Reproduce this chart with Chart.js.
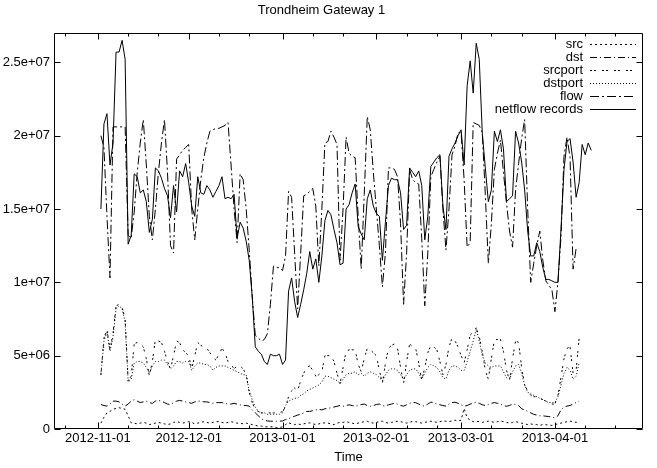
<!DOCTYPE html>
<html>
<head>
<meta charset="utf-8">
<script src="https://cdn.jsdelivr.net/npm/chart.js@4.4.1/dist/chart.umd.min.js"></script>
<style>
  html, body { margin: 0; padding: 0; background: #fff; }
</style>
</head>
<body>
<canvas id="grafica" width="657" height="468"></canvas>
<script>
// valores en millones, un punto por dia desde 2012-11-02 (dia 1 respecto a 2012-11-01)
const primerDia = 1;

const netflow = [
  15.0, 20.8, 21.5, 18.0, 19.5, 25.7, 25.7, 26.5, 25.2, 12.6,
  13.2, 17.4, 17.2, 16.1, 16.3, 15.5, 13.4, 14.3, 17.8, 17.6,
  17.1, 16.4, 15.9, 14.4, 16.6, 14.8, 17.6, 17.2, 18.1, 16.8,
  15.2, 14.5, 17.2, 16.1, 16.0, 16.6, 16.3, 15.8, 16.2, 16.6,
  17.2, 15.7, 15.8, 15.7, 16.0, 13.0, 14.1, 13.7, 12.8, 11.5,
  9.0, 5.6, 5.3, 5.1, 4.6, 4.4, 5.1, 5.0, 5.0, 5.1,
  4.4, 4.7, 9.4, 10.3, 8.7, 7.6, 8.5, 9.5, 10.6, 12.1,
  10.9, 11.6, 10.0, 11.8, 14.2, 14.9, 14.6, 13.6, 12.7, 11.2,
  11.3, 15.0, 15.3, 16.1, 16.7, 13.8, 13.3, 12.9, 15.7, 16.3,
  15.2, 14.7, 14.5, 11.5, 14.1, 16.6, 17.1, 17.0, 17.0, 16.1,
  13.6, 13.9, 17.8, 17.5, 17.2, 17.6, 16.6, 12.9, 14.5, 17.9,
  18.2, 18.5, 18.7, 15.2, 13.6, 18.6, 19.1, 19.5, 20.0, 20.4,
  18.0, 23.4, 25.1, 22.9, 26.3, 25.2, 20.2, 17.8, 15.5, 16.3,
  20.3, 19.6, 20.4, 19.1, 15.5, 15.7, 15.9, 20.3, 19.5, 18.2,
  16.3, 13.5, 11.8, 11.8, 12.7, 12.1, 11.0, 10.2, 10.2, 10.1,
  10.0, 10.0, 13.6, 17.7, 19.6, 19.8, 18.2, 15.8, 16.8, 19.4,
  18.7, 19.5, 19.0
];

const flow = [
  20.0, 19.2, 14.5, 10.3, 20.6, 20.6, 20.6, 20.6, 20.6, 13.2,
  13.0, 14.8, 17.5, 19.5, 21.1, 18.0, 14.5, 12.9, 15.0, 17.5,
  19.5, 21.1, 17.5, 12.5, 12.0, 18.4, 18.7, 19.0, 19.2, 19.4,
  15.0, 12.9, 15.0, 17.0, 18.5, 19.5, 20.3, 20.4, 20.5, 20.5,
  20.6, 20.7, 20.9, 18.0, 15.0, 12.7, 17.4, 17.0, 15.0, 12.2,
  9.0, 6.4, 6.2, 6.0, 6.1, 6.5, 8.5, 11.1, 11.0, 11.0,
  10.8, 11.8, 16.2, 15.8, 12.0, 8.2, 12.0, 15.9, 16.0, 16.2,
  16.4, 15.2, 11.1, 15.0, 19.5, 19.6, 20.3, 19.9, 19.4, 11.5,
  15.0, 19.9, 18.8, 18.6, 18.5, 14.5, 10.9, 16.0, 21.3, 20.4,
  17.5, 15.0, 12.5, 9.7, 12.0, 17.8, 17.8, 17.7, 17.2, 14.0,
  8.5, 12.0, 17.7, 17.0, 16.8, 16.7, 13.0, 8.4, 12.0, 17.2,
  17.7, 18.2, 18.6, 15.0, 12.2, 15.0, 18.7, 19.3, 20.2, 20.2,
  17.0, 12.4, 12.7, 20.9, 20.8, 20.7, 20.2, 16.0, 11.3, 14.0,
  17.7, 18.8, 19.7, 17.5, 15.4, 13.5, 12.4, 16.3, 18.1, 19.8,
  21.1, 15.0, 10.0, 11.3, 12.5, 13.5, 11.5, 10.1, 9.8, 9.5,
  8.0, 10.0, 13.1, 18.6, 19.9, 18.5, 10.9, 12.3
];

const srcport = [
  3.7, 6.2, 6.8, 5.4, 6.5, 8.4, 8.5, 8.3, 7.5, 3.3,
  3.6, 5.8, 5.9, 5.8, 5.6, 4.8, 3.6, 4.6, 6.1, 6.0,
  5.9, 5.3, 4.6, 4.1, 5.0, 6.0, 5.9, 5.4, 5.2, 5.0,
  4.1, 5.0, 5.9, 5.7, 5.6, 5.5, 5.2, 4.9, 4.7, 5.1,
  5.5, 5.2, 4.6, 4.4, 4.1, 4.3, 4.3, 4.1, 3.7, 2.5,
  1.8, 1.3, 1.2, 1.1, 1.1, 1.1, 1.1, 1.1, 1.1, 1.1,
  1.2, 1.5, 2.2, 2.6, 2.8, 2.6, 3.3, 3.8, 4.2, 4.3,
  4.0, 3.6, 3.7, 3.9, 5.0, 5.0, 5.0, 4.6, 3.8, 3.1,
  4.2, 5.3, 5.4, 5.4, 5.4, 4.4, 3.9, 4.8, 5.5, 5.4,
  5.2, 5.0, 4.0, 3.1, 4.5, 5.5, 5.7, 5.8, 5.5, 4.2,
  3.1, 4.6, 5.8, 5.6, 5.5, 4.5, 3.3, 4.2, 5.2, 5.7,
  5.6, 5.4, 4.6, 3.7, 4.4, 5.6, 6.2, 6.0, 5.6, 5.0,
  4.5, 5.4, 6.4, 6.6, 6.9, 6.3, 5.3, 4.0, 3.4, 4.8,
  6.1, 6.1, 6.1, 5.3, 4.0, 3.3, 4.8, 6.0, 5.9, 4.2,
  3.0, 2.6, 2.3, 2.2, 2.2, 2.1, 2.0, 1.9, 1.8, 1.7,
  1.7, 2.3, 3.5, 4.8, 5.5, 5.6, 3.8, 4.0, 6.2
];

const dstport = [
  3.7, 6.0, 6.6, 5.3, 6.3, 8.2, 8.4, 8.2, 7.3, 3.2,
  3.4, 4.5, 4.6, 4.6, 4.5, 4.2, 3.8, 4.3, 4.6, 4.6,
  4.7, 4.7, 4.4, 4.1, 4.3, 4.6, 4.6, 4.5, 4.6, 4.6,
  4.0, 4.3, 4.5, 4.5, 4.4, 4.4, 4.3, 4.0, 4.2, 4.3,
  4.3, 4.3, 4.2, 4.1, 4.0, 3.9, 3.8, 3.7, 3.7, 2.6,
  2.0, 1.5, 1.2, 1.1, 1.1, 1.0, 1.0, 1.0, 1.0, 1.0,
  1.1, 1.6, 1.9, 2.0, 2.1, 2.1, 2.3, 2.4, 2.6, 2.7,
  2.8, 2.9, 3.0, 3.2, 3.6, 3.6, 3.5, 3.4, 3.3, 3.1,
  3.4, 3.7, 3.8, 3.8, 3.9, 3.7, 3.8, 3.6, 3.8, 3.9,
  3.8, 3.7, 3.5, 3.3, 3.7, 4.0, 4.1, 4.1, 4.0, 3.7,
  3.4, 3.7, 4.0, 4.1, 4.1, 3.8, 3.4, 3.8, 4.2, 4.4,
  4.3, 4.2, 3.9, 3.5, 3.4, 4.0, 4.3, 4.3, 4.2, 4.0,
  4.0, 4.6, 5.3, 6.0, 6.8, 6.0, 5.0, 4.5, 4.3, 4.2,
  4.3, 4.3, 4.3, 3.9, 3.5, 3.4, 3.9, 4.3, 4.4, 3.8,
  3.0, 2.5, 2.4, 2.3, 2.2, 2.1, 2.0, 1.9, 1.8, 1.8,
  1.8, 2.2, 3.0, 3.8, 4.2, 4.0, 3.4, 3.6, 4.5
];

const dst = [
  1.67, 1.6, 1.56, 1.7, 1.9, 1.9, 1.85, 1.7, 1.56, 1.7,
  1.9, 2.0, 1.9, 1.8, 1.85, 1.9, 1.8, 1.75, 1.9, 1.95,
  1.9, 1.8, 1.7, 1.67, 1.8, 1.9, 1.95, 1.9, 1.85, 1.8,
  1.75, 1.85, 1.9, 1.9, 1.85, 1.85, 1.8, 1.75, 1.8, 1.8,
  1.8, 1.75, 1.7, 1.7, 1.75, 1.7, 1.65, 1.6, 1.6, 1.56,
  1.3, 1.1, 0.9, 0.7, 0.6, 0.55, 0.53, 0.53, 0.53, 0.53,
  0.55, 0.64, 0.7, 0.8, 0.87, 0.95, 1.0, 1.1, 1.2, 1.2,
  1.25, 1.3, 1.35, 1.3, 1.38, 1.4, 1.45, 1.5, 1.55, 1.6,
  1.55, 1.6, 1.65, 1.6, 1.55, 1.6, 1.67, 1.7, 1.6, 1.55,
  1.6, 1.67, 1.7, 1.6, 1.56, 1.65, 1.7, 1.75, 1.7, 1.6,
  1.56, 1.65, 1.75, 1.8, 1.8, 1.7, 1.6, 1.56, 1.7, 1.83,
  1.8, 1.7, 1.65, 1.6, 1.56, 1.7, 1.8, 1.83, 1.75, 1.65,
  1.56, 1.6, 1.7, 1.75, 1.83, 1.75, 1.65, 1.6, 1.67, 1.75,
  1.8, 1.75, 1.7, 1.6, 1.55, 1.6, 1.7, 1.67, 1.6, 1.38,
  1.3, 1.2, 1.1, 1.0, 0.95, 0.9, 0.9, 0.87, 0.85, 0.8,
  0.76, 0.9, 1.3, 1.5, 1.56, 1.6, 1.7, 1.8, 1.9
];

const src = [
  0.4, 0.8, 1.1, 1.2, 1.35, 1.4, 1.45, 1.4, 1.35, 0.9,
  0.42, 0.4, 0.35, 0.4, 0.45, 0.4, 0.3, 0.35, 0.4, 0.45,
  0.4, 0.35, 0.3, 0.35, 0.45, 0.5, 0.45, 0.4, 0.45, 0.5,
  0.45, 0.35, 0.4, 0.45, 0.5, 0.45, 0.4, 0.45, 0.5, 0.5,
  0.45, 0.4, 0.45, 0.5, 0.45, 0.4, 0.4, 0.35, 0.4, 0.35,
  0.3, 0.25, 0.2, 0.2, 0.15, 0.15, 0.15, 0.15, 0.1, 0.1,
  0.15, 0.3, 0.42, 0.35, 0.3, 0.35, 0.3, 0.35, 0.4, 0.42,
  0.35, 0.3, 0.35, 0.4, 0.42, 0.4, 0.35, 0.3, 0.4, 0.45,
  0.45, 0.5, 0.45, 0.4, 0.35, 0.4, 0.45, 0.5, 0.53, 0.45,
  0.4, 0.45, 0.5, 0.53, 0.45, 0.4, 0.45, 0.5, 0.53, 0.5,
  0.45, 0.4, 0.45, 0.53, 0.5, 0.45, 0.4, 0.45, 0.5, 0.53,
  0.5, 0.45, 0.5, 0.55, 0.53, 0.5, 0.55, 0.6, 0.55, 0.6,
  1.4, 0.76, 0.6, 0.5, 0.53, 0.5, 0.45, 0.5, 0.53, 0.5,
  0.45, 0.5, 0.53, 0.5, 0.45, 0.4, 0.45, 0.5, 0.45, 0.4,
  0.35, 0.3, 0.35, 0.3, 0.3, 0.25, 0.3, 0.3, 0.25, 0.25,
  0.3, 0.35, 0.4, 0.45, 0.5, 0.53, 0.5, 0.45, 0.5
];

// marcas del eje x (dias desde 2012-11-01)
const marcasMes = [0, 30, 61, 92, 120, 151];
const etiquetasMes = ['2012-11-01', '2012-12-01', '2013-01-01', '2013-02-01', '2013-03-01', '2013-04-01'];
const marcasMenores = [-11, 10, 20, 40, 50, 71, 81, 102, 112, 130, 140, 161, 171];

// marcas del eje y (millones)
const marcasY = [0, 5, 10, 15, 20, 25];
const etiquetasY = ['0', '5e+06', '1e+07', '1.5e+07', '2e+07', '2.5e+07'];

const dias = [];
for (let i = 0; i < netflow.length; i++) dias.push(primerDia + i);

const fuente = { family: '"Liberation Sans", Arial, sans-serif', size: 13 };

const linea = (label, data, dash) => ({
  label: label,
  data: data,
  borderColor: '#000',
  borderWidth: 1,
  borderDash: dash,
  pointRadius: 0,
  tension: 0,
  fill: false
});

// marcas hacia dentro y borde como en gnuplot
const bordeGnuplot = {
  id: 'bordeGnuplot',
  afterDatasetsDraw(chart) {
    const ctx = chart.ctx;
    const a = chart.chartArea;
    const x = chart.scales.x;
    const y = chart.scales.y;
    const l = Math.round(a.left) + 0.5, r = Math.round(a.right) - 0.5;
    const t = Math.round(a.top) + 0.5, b = Math.round(a.bottom) - 0.5;
    ctx.save();
    ctx.strokeStyle = '#000';
    ctx.lineWidth = 1;
    ctx.setLineDash([]);
    ctx.beginPath();
    x.ticks.forEach(tk => {
      const px = Math.round(x.getPixelForValue(tk.value)) + 0.5;
      if (px <= l + 1) return;
      const len = marcasMes.includes(tk.value) ? 6 : 3;
      ctx.moveTo(px, b); ctx.lineTo(px, b - len);
      ctx.moveTo(px, t); ctx.lineTo(px, t + len);
    });
    y.ticks.forEach(tk => {
      const py = Math.round(y.getPixelForValue(tk.value)) + 0.5;
      ctx.moveTo(l, py); ctx.lineTo(l + 6, py);
      ctx.moveTo(r, py); ctx.lineTo(r - 6, py);
    });
    ctx.rect(l, t, r - l, b - t);
    ctx.stroke();
    ctx.restore();
  }
};

const leyendaGnuplot = {
  id: 'leyendaGnuplot',
  afterDraw(chart) {
    const ctx = chart.ctx;
    const a = chart.chartArea;
    ctx.save();
    ctx.font = '13px "Liberation Sans", Arial, sans-serif';
    ctx.fillStyle = '#000';
    ctx.strokeStyle = '#000';
    ctx.lineWidth = 1;
    ctx.textAlign = 'right';
    ctx.textBaseline = 'middle';
    chart.data.datasets.forEach((ds, i) => {
      const yy = Math.round(a.top + 11 + i * 13) + 0.5;
      ctx.fillText(ds.label, a.right - 60, yy);
      ctx.setLineDash(ds.borderDash);
      ctx.beginPath();
      ctx.moveTo(a.right - 53, yy);
      ctx.lineTo(a.right - 7, yy);
      ctx.stroke();
    });
    ctx.restore();
  }
};

new Chart(document.getElementById('grafica'), {
  type: 'line',
  data: {
    labels: dias,
    datasets: [
      linea('src', src, [2, 3]),
      linea('dst', dst, [7, 3, 1, 3]),
      linea('srcport', srcport, [2, 2, 2, 6]),
      linea('dstport', dstport, [1, 2]),
      linea('flow', flow, [9, 3, 2, 3]),
      linea('netflow records', netflow, [])
    ]
  },
  options: {
    responsive: false,
    devicePixelRatio: 1,
    animation: false,
    layout: { padding: { left: 0, right: 14, top: 0, bottom: 0 } },
    plugins: {
      legend: { display: false },
      tooltip: { enabled: false },
      title: {
        display: true,
        text: 'Trondheim Gateway 1',
        color: '#000',
        font: { family: fuente.family, size: 13, weight: 'normal' },
        padding: { top: 3, bottom: 14.4 }
      }
    },
    scales: {
      x: {
        type: 'linear',
        min: -14.5,
        max: 180.1,
        afterBuildTicks: s => { s.ticks = marcasMes.concat(marcasMenores).sort((p, q) => p - q).map(v => ({ value: v })); },
        ticks: {
          autoSkip: false,
          maxRotation: 0,
          padding: 2,
          color: '#000',
          font: fuente,
          callback: v => {
            const i = marcasMes.indexOf(v);
            return i >= 0 ? etiquetasMes[i] : '';
          }
        },
        grid: { display: false, drawTicks: false },
        border: { display: false },
        title: { display: true, text: 'Time', color: '#000', font: fuente, padding: { top: 0, bottom: 3 } },
        afterFit: s => { s.height = 39; }
      },
      y: {
        min: 0,
        max: 27,
        afterBuildTicks: s => { s.ticks = marcasY.map(v => ({ value: v })); },
        ticks: {
          padding: 4,
          color: '#000',
          font: fuente,
          callback: (v, i) => etiquetasY[i]
        },
        grid: { display: false, drawTicks: false },
        border: { display: false },
        afterFit: s => { s.width = 54; }
      }
    }
  },
  plugins: [bordeGnuplot, leyendaGnuplot]
});
</script>
</body>
</html>
